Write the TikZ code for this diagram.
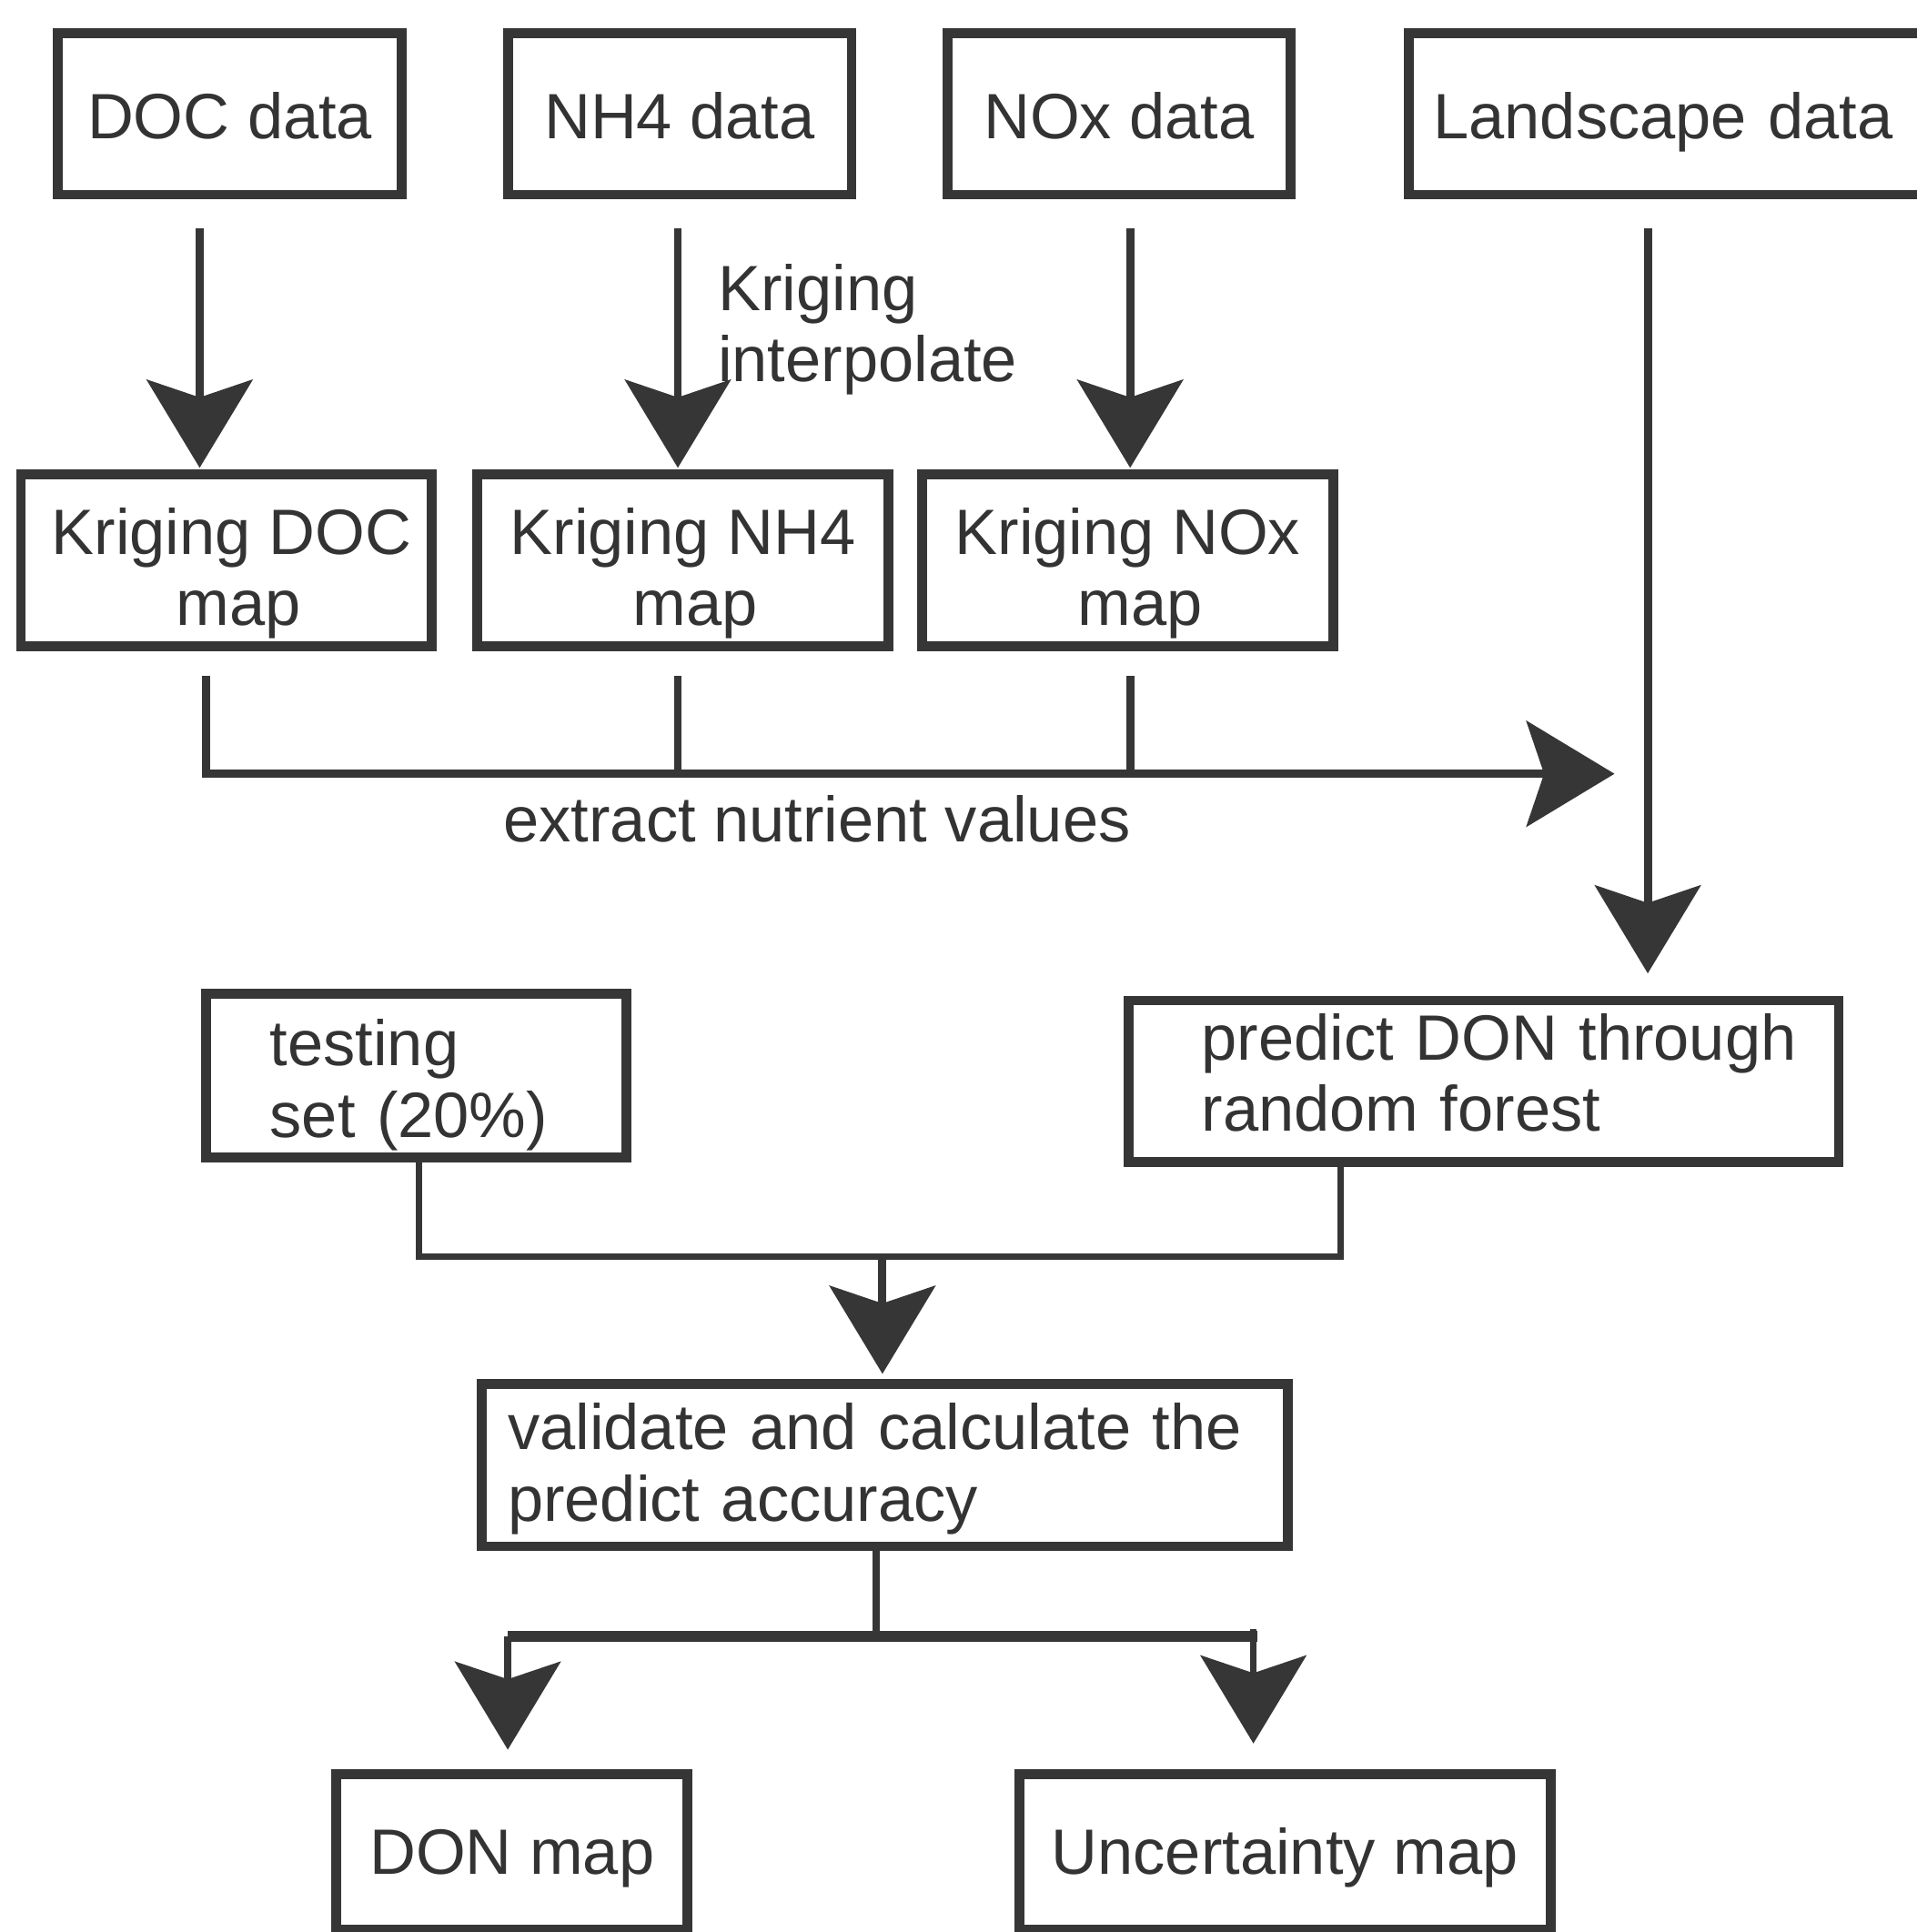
\documentclass[tikz,border=0pt]{standalone}
\usepackage{fontspec}
\setmainfont{Liberation Sans}
\usetikzlibrary{arrows.meta,calc}
\definecolor{ink}{HTML}{363636}
\definecolor{txt}{HTML}{333333}
\newcommand{\tallr}[1]{\rule{0pt}{#1}}
\newcommand{\deepr}[1]{\rule[-#1]{0pt}{#1}}
\begin{document}
\begin{tikzpicture}[x=0.35pt,y=-0.35pt,
  box/.style={draw=ink, line width=2.8pt, rectangle, inner sep=2pt, outer sep=0pt,
    text=txt, font=\fontsize{18.2}{20.3}\selectfont, align=center},
  arr/.style={draw=ink, line width=2.3pt, -{Stealth[length=25pt,width=30pt,inset=5pt]}},
  conn/.style={draw=ink, line width=2.3pt},
  lbl/.style={text=txt, font=\fontsize{18.2}{20.3}\selectfont, inner sep=0pt}]
\useasboundingbox (0,0) rectangle (1555,1568);
\fill[white] (0,0) rectangle (1555,1568);

% row 1
\node[box, minimum width=97.65pt, minimum height=45.85pt] (doc) at (186.5,92.5) {\tallr{14.4pt}DOC data};
\node[box, minimum width=97.65pt, minimum height=45.85pt] (nh4) at (551.5,92.5) {\tallr{14.4pt}NH4 data};
\node[box, minimum width=97.3pt, minimum height=45.85pt] (nox) at (908,92.5) {\tallr{14.4pt}NOx data};
\node[box, minimum width=147.7pt, minimum height=45.85pt, text width=133.7pt, align=left] (land) at (1354,92.5) {\tallr{17.9pt}Landscape data};

% row 2
\node[box, minimum width=116.55pt, minimum height=46.55pt] (kdoc) at (183.5,454.5) {\tallr{20.8pt}\hspace*{3pt}Kriging DOC\\\hspace*{7pt}map};
\node[box, minimum width=116.9pt, minimum height=46.55pt] (knh4) at (554,454.5) {\tallr{20.8pt}Kriging NH4\\\hspace*{7pt}map};
\node[box, minimum width=116.9pt, minimum height=46.55pt] (knox) at (915,454.5) {\tallr{20.8pt}Kriging NOx\\\hspace*{7pt}map};

% row 3
\node[box, minimum width=119.35pt, minimum height=46.2pt, text width=82.95pt, align=left] (test) at (337.5,873) {\tallr{18.6pt}testing\\set (20\%)};
\node[box, minimum width=201.6pt, minimum height=45.85pt, text width=160.3pt, align=left] (pred) at (1204,877.5) {\mbox{predict DON through}\\random forest\deepr{4.9pt}};

% row 4
\node[box, minimum width=228.9pt, minimum height=46.2pt, text width=214.2pt, align=left] (valid) at (718,1189) {\tallr{15.2pt}validate and calculate the\\predict accuracy};

% row 5
\node[box, minimum width=99.75pt, minimum height=44.1pt] (don) at (415.5,1503) {\tallr{16.5pt}DON map};
\node[box, minimum width=150.85pt, minimum height=44.1pt] (unc) at (1042.5,1503) {\tallr{16.5pt}Uncertainty map};

% labels
\node[lbl, align=left, anchor=west] (krig) at (582,267.5) {Kriging\\interpolate};
\node[lbl] (extl) at (663,665) {extract nutrient values};

% kriging arrows
\draw[arr] ($(doc.south)+(-24.5,27)$) -- ($(kdoc.north)+(-21.5,-5)$);
\draw[arr] ($(nh4.south)+(-1.5,27)$) -- ($(knh4.north)+(-4,-5)$);
\draw[arr] ($(nox.south)+(9,27)$) -- ($(knox.north)+(2,-5)$);
\draw[arr] ($(land.south)+(-17,27)$) -- ($(pred.north)+(133,-22)$);

% extract
\coordinate (ext) at (1310,628);
\coordinate (v2) at ($(knh4.south)+(-4,24)$);
\coordinate (v3) at ($(knox.south)+(2,24)$);
\draw[arr] ($(kdoc.south)+(-16.5,24)$) |- (ext);
\draw[conn] (v2) -- (v2 |- ext);
\draw[conn] (v3) -- (v3 |- ext);

% merge
\coordinate (m) at (716,1020);
\draw[conn, line width=1.9pt] ($(test.south)+(2.5,0)$) |- (m) -| ($(pred.south)+(-116,0)$);
\draw[arr] (m) -- ($(valid.north)+(-2,-8)$);

% split
\coordinate (s) at (711,1328);
\coordinate (sl) at (412,1328);
\coordinate (sr) at (1020,1328);
\draw[conn, line width=1.9pt] ($(valid.south)+(-7,0)$) -- (s);
\draw[conn, line width=3pt] (sl) -- (sr);
\draw[arr, line width=1.9pt] (sl) -- ($(don.north)+(-3.5,-20)$);
\draw[arr, line width=1.9pt] ($(sr)+(-3,-6)$) -- ($(unc.north)+(-25.5,-25)$);
\end{tikzpicture}
\end{document}
